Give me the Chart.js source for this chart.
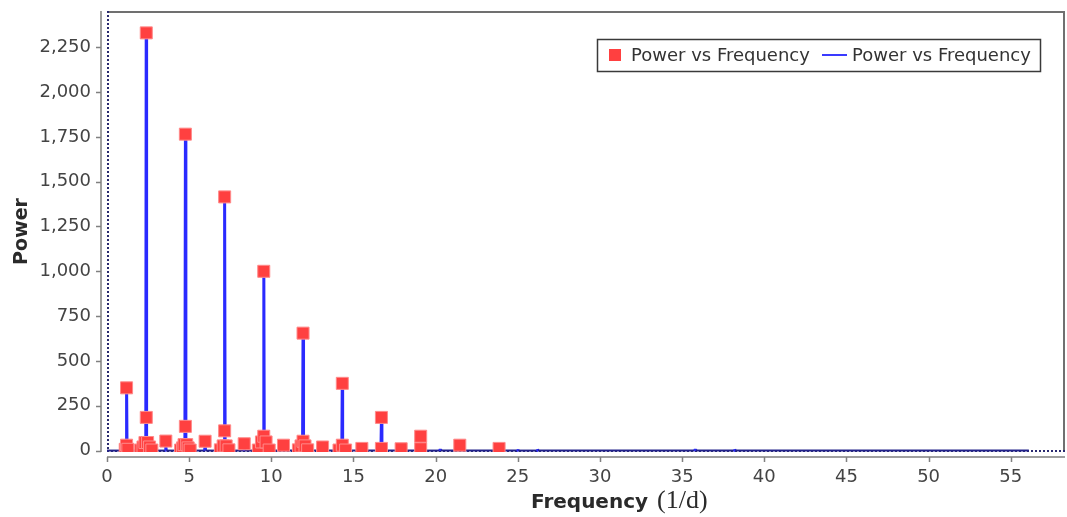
<!DOCTYPE html>
<html><head><meta charset="utf-8">
<script src="https://cdn.jsdelivr.net/npm/chart.js@4.4.1/dist/chart.umd.min.js"></script>
<style>html,body{margin:0;padding:0;background:#fff;} #wrap{width:1067px;height:517px;}</style>
</head><body><div id="wrap"><canvas id="c" width="1067" height="517"></canvas></div>
<script>
// ---- data ----
const seriesName = 'Power vs Frequency';
const xTitle = 'Frequency';
const xUnit = '(1/d)';
const yTitle = 'Power';
const xTicks = [0, 5, 10, 15, 20, 25, 30, 35, 40, 45, 50, 55];
const yTicks = [0, 250, 500, 750, 1000, 1250, 1500, 1750, 2000, 2250];

// detected peaks (red squares)
const peakFreq = [
  1.11, 1.19, 1.27, 1.19,
  2.05, 2.19, 2.31, 2.47, 2.59, 2.73, 2.39, 2.39,
  3.58,
  4.48, 4.60, 4.69, 4.85, 4.94, 5.06, 4.77, 4.77,
  5.97,
  6.90, 7.07, 7.25, 7.42, 7.16, 7.16,
  8.35,
  9.21, 9.40, 9.54, 9.68, 9.87, 9.54,
  10.74,
  11.65, 11.81, 11.93, 12.05, 12.21, 11.93,
  13.12,
  14.12, 14.32, 14.52, 14.32,
  15.51,
  16.70, 16.70,
  17.90,
  19.09, 19.09,
  21.47,
  23.86
];
const peakPower = [
  7, 30, 7, 350,
  3, 20, 45, 45, 20, 3, 185, 2330,
  53,
  3, 15, 33, 33, 15, 3, 135, 1765,
  52,
  4, 26, 26, 4, 110, 1415,
  38,
  3, 48, 80, 48, 3, 1000,
  30,
  4, 26, 52, 26, 4, 655,
  20,
  3, 30, 3, 375,
  12,
  12, 185,
  10,
  10, 80,
  30,
  12
];

// periodogram (blue line)
const lineFreq = [
  0,
  1.16, 1.193, 1.22,
  2.36, 2.386, 2.41,
  3.55, 3.579, 3.61,
  4.74, 4.772, 4.80,
  5.94, 5.965, 5.99,
  7.13, 7.158, 7.19,
  8.32, 8.351, 8.38,
  9.51, 9.544, 9.57,
  11.90, 11.93, 11.96,
  14.29, 14.316, 14.34,
  16.67, 16.702, 16.73,
  19.06, 19.088, 19.12,
  20.25, 20.281, 20.31,
  24.97, 25.0, 25.03,
  26.17, 26.2, 26.23,
  35.77, 35.8, 35.83,
  38.17, 38.2, 38.23,
  56.1
];
const linePower = [
  0,
  0, 350, 0,
  0, 2330, 0,
  0, 25, 0,
  0, 1765, 0,
  0, 25, 0,
  0, 1415, 0,
  0, 8, 0,
  0, 1000, 0,
  0, 655, 0,
  0, 375, 0,
  0, 185, 0,
  0, 45, 0,
  0, 8, 0,
  0, 5, 0,
  0, 6, 0,
  0, 6, 0,
  0, 6, 0,
  0
];

const peakPoints = peakFreq.map((f, i) => ({x: f, y: peakPower[i]}));
const linePoints = lineFreq.map((f, i) => ({x: f, y: linePower[i]}));

const RED = '#ff4040';
const BLUE = '#2a2aff';
const NAVY = '#22228a';

const framePlugin = {
  id: 'frame',
  beforeDraw(chart) {
    const ctx = chart.ctx;
    ctx.save();
    ctx.fillStyle = '#fff';
    ctx.fillRect(0, 0, chart.width, chart.height);
    ctx.restore();
  },
  beforeDatasetsDraw(chart) {
    const {left, top, right, bottom} = chart.chartArea;
    const ctx = chart.ctx;
    ctx.save();
    ctx.strokeStyle = '#707070';
    ctx.lineWidth = 2;
    ctx.beginPath();
    ctx.moveTo(left, top + 1); ctx.lineTo(right, top + 1);
    ctx.moveTo(right - 1, top); ctx.lineTo(right - 1, bottom);
    ctx.stroke();
    ctx.strokeStyle = '#2a2a70';
    ctx.setLineDash([2, 2]);
    ctx.beginPath();
    ctx.moveTo(left + 1, top); ctx.lineTo(left + 1, bottom);
    ctx.moveTo(left, bottom - 1); ctx.lineTo(right, bottom - 1);
    ctx.stroke();
    ctx.restore();
  },
  afterDraw(chart) {
    const {left, top, right, bottom} = chart.chartArea;
    const ctx = chart.ctx;
    const xs = chart.scales.x, ys = chart.scales.y;
    ctx.save();
    // offset axis lines
    ctx.strokeStyle = '#808080';
    ctx.lineWidth = 1.5;
    const axY = bottom + 5, axX = left - 6;
    ctx.beginPath();
    ctx.moveTo(left, axY); ctx.lineTo(right, axY);
    ctx.moveTo(axX, top); ctx.lineTo(axX, bottom);
    xs.ticks.forEach(t => {
      const p = Math.round(xs.getPixelForValue(t.value)) + 0.5;
      ctx.moveTo(p, axY); ctx.lineTo(p, axY + 5);
    });
    ys.ticks.forEach(t => {
      const p = Math.round(ys.getPixelForValue(t.value)) + 0.5;
      ctx.moveTo(axX, p); ctx.lineTo(axX - 5, p);
    });
    ctx.stroke();

    // axis titles
    ctx.fillStyle = '#2a2a2a';
    ctx.textBaseline = 'alphabetic';
    ctx.textAlign = 'left';
    ctx.font = 'bold 20px "DejaVu Sans"';
    const fx = left + 424;
    ctx.fillText(xTitle, fx, 508);
    const w = ctx.measureText(xTitle).width;
    ctx.font = '26px "Liberation Serif"';
    ctx.fillText(xUnit, fx + w + 9, 508);

    ctx.save();
    ctx.translate(27, (top + bottom) / 2);
    ctx.rotate(-Math.PI / 2);
    ctx.textAlign = 'center';
    ctx.font = 'bold 19px "DejaVu Sans"';
    ctx.fillText(yTitle, 0, 0);
    ctx.restore();

    // legend
    const lx = 597, ly = 39, lw = 443, lh = 32;
    ctx.fillStyle = '#fff';
    ctx.fillRect(lx, ly, lw, lh);
    ctx.strokeStyle = '#3a3a3a';
    ctx.lineWidth = 1.5;
    ctx.strokeRect(lx + 0.5, ly + 0.5, lw, lh);
    const cy = ly + lh / 2;
    ctx.font = '18px "DejaVu Sans"';
    ctx.textAlign = 'left';
    ctx.textBaseline = 'middle';
    const ds = chart.data.datasets;
    ctx.fillStyle = RED;
    ctx.fillRect(lx + 12, cy - 6, 12, 12);
    ctx.fillStyle = '#333';
    ctx.fillText(ds[0].label, lx + 34, cy + 1);
    ctx.strokeStyle = '#3a3aff';
    ctx.lineWidth = 2;
    ctx.beginPath();
    ctx.moveTo(lx + 225, cy); ctx.lineTo(lx + 250, cy);
    ctx.stroke();
    ctx.fillStyle = '#333';
    ctx.fillText(ds[1].label, lx + 255, cy + 1);
    ctx.restore();
  }
};

new Chart(document.getElementById('c'), {
  type: 'scatter',
  data: {
    datasets: [
      {
        label: seriesName,
        data: peakPoints,
        pointStyle: 'rect',
        pointRadius: 8.5,
        pointHoverRadius: 8.5,
        backgroundColor: RED,
        borderColor: '#ff8a8a',
        borderWidth: 1,
        showLine: false,
        clip: 0
      },
      {
        label: seriesName,
        type: 'line',
        data: linePoints,
        showLine: true,
        pointRadius: 0,
        borderColor: BLUE,
        borderWidth: 3,
        borderJoinStyle: 'bevel',
        tension: 0,
        fill: false,
        clip: 0,
        segment: {
          borderColor: c => (c.p0.parsed.y === 0 && c.p1.parsed.y === 0) ? NAVY : BLUE,
          borderWidth: c => (c.p0.parsed.y === 0 && c.p1.parsed.y === 0) ? 2 : 3
        }
      }
    ]
  },
  options: {
    responsive: false,
    animation: false,
    devicePixelRatio: 1,
    layout: {autoPadding: false, padding: {top: 11, right: 2, left: 0, bottom: 0}},
    plugins: {legend: {display: false}, tooltip: {enabled: false}},
    font: {family: 'DejaVu Sans'},
    scales: {
      x: {
        type: 'linear',
        min: 0,
        max: 58.3,
        grid: {display: false, drawTicks: false},
        border: {display: false},
        afterBuildTicks: s => { s.ticks = xTicks.map(v => ({value: v})); },
        afterFit: s => { s.height = 65; s.paddingLeft = 0; s.paddingRight = 0; s.paddingTop = 0; s.paddingBottom = 0; },
        ticks: {
          padding: 15,
          color: '#444',
          font: {family: 'DejaVu Sans', size: 18},
          maxRotation: 0,
          autoSkip: false
        }
      },
      y: {
        type: 'linear',
        min: -8,
        max: 2452,
        grid: {display: false, drawTicks: false},
        border: {display: false},
        afterBuildTicks: s => { s.ticks = yTicks.map(v => ({value: v})); },
        afterFit: s => { s.width = 107; s.paddingLeft = 0; s.paddingRight = 0; s.paddingTop = 0; s.paddingBottom = 0; },
        ticks: {
          padding: 16,
          color: '#444',
          font: {family: 'DejaVu Sans', size: 18},
          autoSkip: false,
          callback: v => v.toLocaleString('en-US')
        }
      }
    }
  },
  plugins: [framePlugin]
});
</script>
</body></html>
